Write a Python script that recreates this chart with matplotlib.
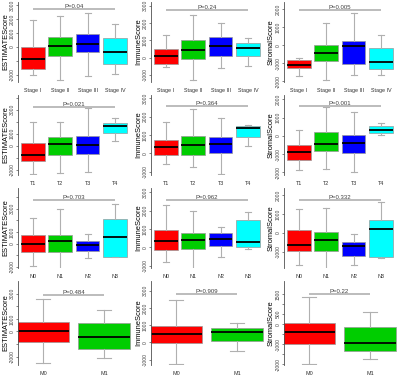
import matplotlib
matplotlib.use("Agg")
import matplotlib.pyplot as plt

plt.rcParams['font.family'] = ['Liberation Sans', 'DejaVu Sans']

stage_labels = ['Stage I', 'Stage II', 'Stage III', 'Stage IV']
t_labels = ['T1', 'T2', 'T3', 'T4']
n_labels = ['N0', 'N1', 'N2', 'N3']
m_labels = ['M0', 'M1']

# five-number summaries: (whisker low, Q1, median, Q3, whisker high)
estimate_stage = [(-2000, -1600, -880, 0, 1900), (-2330, -670, 70, 700, 2200),
                  (-2100, -360, 240, 900, 2430), (-1900, -1190, -360, 670, 1620)]
immune_stage = [(-560, -385, 77, 500, 1330), (-1270, -77, 420, 1000, 2480),
                (-600, 77, 650, 1170, 2000), (-500, 77, 580, 850, 1150)]
stromal_stage = [(-1685, -1260, -1110, -830, -685), (-1910, -870, -425, 37, 1240),
                 (-1650, -1020, -55, 260, 1800), (-1670, -1330, -945, -150, 555)]

estimate_t = [(-2390, -1280, -780, 250, 1940), (-2300, -780, 110, 750, 2000),
              (-2220, -690, 55, 830, 3110), (420, 1080, 1670, 1920, 2280)]
immune_t = [(-600, -110, 330, 730, 1730), (-760, -110, 450, 960, 2400),
            (-1150, 0, 490, 890, 1950), (420, 910, 1380, 1490, 1550)]
stromal_t = [(-1840, -1300, -860, -475, 315), (-1820, -840, -420, 210, 1600),
             (-1950, -950, -385, 50, 1315), (35, 175, 330, 525, 700)]

estimate_n = [(-1940, -740, -30, 740, 2200), (-2230, -690, 200, 740, 2970),
              (-1260, -600, -140, 230, 830), (-1170, -1110, 570, 2110, 3400)]
immune_n = [(-800, -165, 365, 945, 2330), (-1220, -90, 420, 780, 1960),
            (-545, 55, 455, 765, 1090), (-70, 20, 270, 1470, 1910)]
stromal_n = [(-1700, -965, -615, 160, 1260), (-1930, -965, -350, 50, 1315),
             (-1670, -1230, -700, -470, -50), (-1310, -1280, 230, 670, 1610)]

estimate_m = [(-2510, -800, 50, 740, 2560), (-2080, -1360, -410, 690, 1670)]
immune_m = [(-1250, -60, 480, 960, 2460), (-500, 100, 580, 810, 1150)]
stromal_m = [(-2000, -1000, -417, 83, 1383), (-1750, -1367, -967, -133, 617)]

p_stage = ['P=0.04', 'P=0.24', 'P=0.005']
p_t = ['P=0.021', 'P=0.364', 'P=0.001']
p_n = ['P=0.703', 'P=0.962', 'P=0.332']
p_m = ['P=0.484', 'P=0.909', 'P=0.22']

score_names = ['ESTIMATEScore', 'ImmuneScore', 'StromalScore']
box_colors = ['#FF0000', '#00CD00', '#0000FF', '#00FFFF']

rows = [
    (stage_labels, [estimate_stage, immune_stage, stromal_stage], p_stage),
    (t_labels, [estimate_t, immune_t, stromal_t], p_t),
    (n_labels, [estimate_n, immune_n, stromal_n], p_n),
    (m_labels, [estimate_m, immune_m, stromal_m], p_m),
]

ylims = [[(-2500, 3214), (-1404, 3212), (-2037, 2407)],
         [(-2444, 4222), (-1182, 3182), (-2140, 2246)],
         [(-2086, 4771), (-1127, 3236), (-1842, 2368)],
         [(-2658, 3999), (-1308, 3558), (-2050, 2167)]]
bracket_y = [[2740, 2730, 1945],
             [3250, 2600, 1670],
             [3770, 2600, 1750],
             [2870, 2790, 1533]]
tick_sets = [[[-2000, -1000, 0, 1000, 2000, 3000], [-1000, 0, 1000, 2000, 3000], [-2000, -1000, 0, 1000, 2000]],
             [[-2000, -1000, 0, 1000, 2000, 3000, 4000], [-1000, 0, 1000, 2000, 3000], [-2000, -1000, 0, 1000, 2000]],
             [[-2000, -1000, 0, 1000, 2000, 3000, 4000], [-1000, 0, 1000, 2000, 3000], [-1000, 0, 1000, 2000]],
             [[-2000, -1000, 0, 1000, 2000, 3000], [-1000, 0, 1000, 2000, 3000], [-2000, -1500, -1000, -500, 0, 500, 1000, 1500]]]

W, H = 400, 376
fig = plt.figure(figsize=(W / 100, H / 100), dpi=100)
col_x = [0, 133, 266]
row_top = [0, 93, 186, 279]
row_bot = [82, 82, 82, 86]
axes_list = []

for r, (labels, series, pvals) in enumerate(rows):
    n = len(labels)
    for c in range(3):
        left = col_x[c] + 17.5
        right = col_x[c] + 133
        top = row_top[r] + 2
        bot = row_top[r] + row_bot[r]
        ax = fig.add_axes([left / W, 1 - bot / H, (right - left) / W, (bot - top) / H])
        stats = []
        for i, (lo, q1, med, q3, hi) in enumerate(series[c]):
            stats.append(dict(whislo=lo, q1=q1, med=med, q3=q3, whishi=hi, label=labels[i]))
        pos = list(range(1, n + 1))
        bp = ax.bxp(stats, positions=pos, widths=0.86, patch_artist=True, showfliers=False,
                    capwidths=0.22,
                    boxprops=dict(edgecolor='#9a9a9a', linewidth=0.5),
                    whiskerprops=dict(color='#b0b0b0', linewidth=0.8),
                    capprops=dict(color='#b0b0b0', linewidth=0.8),
                    medianprops=dict(color='black', linewidth=1.3))
        for patch, col in zip(bp['boxes'], box_colors):
            patch.set_facecolor(col)
        if n == 4:
            ax.set_xlim(0.44, 4.66)
        else:
            ax.set_xlim(0.58, 2.48)
        ax.set_ylim(*ylims[r][c])
        yb = bracket_y[r][c]
        ax.plot([1, n], [yb, yb], color='#b0b0b0', linewidth=1.2, solid_capstyle='butt')
        ax.text((1 + n) / 2, yb, pvals[c], ha='center', va='bottom', fontsize=4.3, color='#404040')
        ticks = [t for t in tick_sets[r][c] if ylims[r][c][0] <= t <= ylims[r][c][1]]
        ax.set_yticks(ticks)
        ax.set_yticklabels([str(v) for v in ticks], rotation=90, va='center',
                           fontsize=3.6, color='#404040')
        ax.set_xticks(pos)
        ax.set_xticklabels(labels, fontsize=3.9, color='#303030')
        ax.tick_params(axis='x', length=0, pad=4)
        ax.tick_params(axis='y', length=1.2, width=0.5, pad=0.8, color='#505050')
        for s in ['top', 'right', 'bottom']:
            ax.spines[s].set_visible(False)
        ax.spines['left'].set_color('#505050')
        ax.spines['left'].set_linewidth(0.6)
        ax.patch.set_alpha(0)
        ax.set_ylabel(score_names[c], fontsize=5.4)
        ax.yaxis.set_label_coords(-8.5 / (right - left), 0.5)
        axes_list.append(ax)

# drop tick labels that would collide, as R's axis() does
fig.canvas.draw()
renderer = fig.canvas.get_renderer()
gap = 2.0
for ax in axes_list:
    labs = sorted(ax.get_yticklabels(), key=lambda t: t.get_window_extent(renderer).y0)
    last_top = None
    for lab in labs:
        bb = lab.get_window_extent(renderer)
        if last_top is not None and bb.y0 < last_top + gap:
            lab.set_visible(False)
        else:
            last_top = bb.y1

fig.savefig('out.png', dpi=100)
